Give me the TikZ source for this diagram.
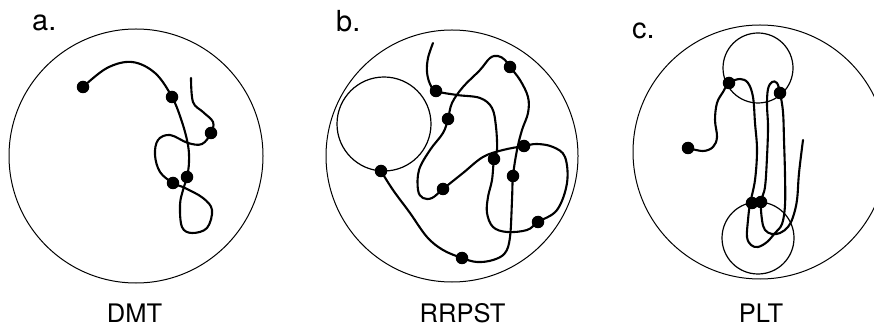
\documentclass[tikz,border=0pt]{standalone}
\usepackage{fontspec}
\newfontfamily\labfont{TeX Gyre Heros}
\begin{document}
\begin{tikzpicture}[x=1pt,y=-1pt,
  bigring/.style={line width=1pt},
  smallring/.style={line width=1.2pt},
  chain/.style={line width=2.1pt,line cap=round,line join=round},
  bead/.style={circle,fill=black,inner sep=0pt,minimum size=12.5pt},
  panellabel/.style={anchor=base west,inner sep=0pt,font=\labfont\fontsize{29}{33}\selectfont},
  caption/.style={anchor=base,inner sep=0pt,font=\labfont\fontsize{25.5}{30}\selectfont}]
\useasboundingbox (0,0) rectangle (874,328);
\clip (0,0) rectangle (874,328);
\fill[white] (0,0) rectangle (874,328);

% ---------- panel a ----------
\draw[bigring] (136,156) circle (127);
\draw[chain] plot[smooth,tension=0.6] coordinates {
 (83,87) (107,68) (132,62) (155,73) (172,97) (182,122) (188,145) (189,162)
 (187,177) (183,190) (180,205) (182,227) (192,233) (207,228) (212,210) (203,198)
 (185,188) (173,183) (160,172) (155,155) (158,140) (170,135) (188,143) (202,144)
 (211,133) (213,122) (203,112) (193,102) (191,78)};
\node[bead] (a1) at (83,87) {};
\node[bead] (a2) at (172,97) {};
\node[bead] (a3) at (211,133) {};
\node[bead] (a4) at (187,177) {};
\node[bead] (a5) at (173,183) {};
\node[panellabel] (la) at (32,31) {a.};
\node[caption] (ca) at (134.5,322) {DMT};

% ---------- panel b ----------
\draw[bigring] (452,156) circle (126);
\draw[smallring] (384,124) circle (47);
\draw[chain] plot[smooth,tension=0.6] coordinates {
 (433,43) (428,58) (427,72) (430,84) (436,91) (457,95) (480,98) (492,108) (496,127)
 (497,150) (494,159) (492,180) (488,197) (487,213) (493,227) (507,232) (527,230)
 (538,222) (557,210) (567,183) (565,157) (553,147) (537,144) (524,146) (503,150)
 (483,157) (463,173) (443,189) (432,198) (423,198) (418,190) (419,170) (430,150)
 (443,133) (448,119) (452,103) (463,87) (480,70) (490,58) (498,56) (505,60)
 (510,67) (520,80) (528,97) (528,113) (522,130) (517,150) (513,176) (512,200)
 (510,237) (505,253) (493,260) (477,262) (462,258) (443,250) (427,237) (410,213)
 (393,190) (381,171)};
\node[bead] (b1) at (381,171) {};
\node[bead] (b2) at (436,91) {};
\node[bead] (b3) at (510,67) {};
\node[bead] (b4) at (448,119) {};
\node[bead] (b5) at (494,159) {};
\node[bead] (b6) at (524,146) {};
\node[bead] (b7) at (513,176) {};
\node[bead] (b8) at (443,189) {};
\node[bead] (b9) at (538,222) {};
\node[bead] (b10) at (462,258) {};
\node[panellabel] (lb) at (336,32) {b.};
\node[caption] (cb) at (462.5,322) {RRPST};

% ---------- panel c ----------
\draw[bigring] (760,152) circle (127);
\draw[smallring] (758,68) circle (35);
\draw[smallring] (758,238) circle (36);
\draw[chain] plot[smooth,tension=0.6] coordinates {
 (688,148) (703,151) (713,147) (717,137) (715,120) (717,103) (723,92) (729,83)
 (740,79) (748,83) (753,97) (755,123) (757,150) (755,180) (750,204) (748,220)
 (747,237) (751,245) (758,247) (767,242) (775,233) (782,224) (785,205) (785,175)
 (784,140) (783,112) (780,93) (777,83) (772,82) (768,89) (767,105) (768,127)
 (767,157) (765,187) (761,202) (762,220) (765,230) (772,234) (780,233) (788,227)
 (793,217) (797,200) (799,173) (803,140)};
\node[bead] (c1) at (688,148) {};
\node[bead] (c2) at (729,83) {};
\node[bead] (c3) at (780,93) {};
\node[bead] (c4) at (752,203) {};
\node[bead] (c5) at (761,202) {};
\node[panellabel] (lc) at (632,39) {c.};
\node[caption] (cc) at (761,322) {PLT};
\end{tikzpicture}
\end{document}
